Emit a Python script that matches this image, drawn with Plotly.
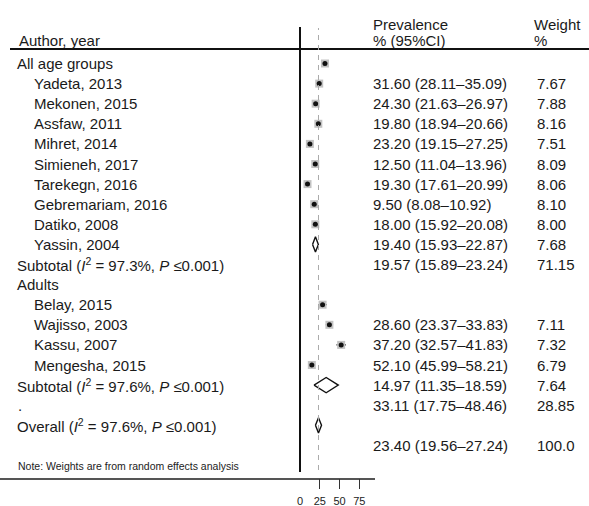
import plotly.graph_objects as go

# ---- study data -------------------------------------------------------
group1_label = "All age groups"
group1_authors = ["Yadeta, 2013", "Mekonen, 2015", "Assfaw, 2011", "Mihret, 2014",
                  "Simieneh, 2017", "Tarekegn, 2016", "Gebremariam, 2016",
                  "Datiko, 2008", "Yassin, 2004"]
group1_est = [31.60, 24.30, 19.80, 23.20, 12.50, 19.30, 9.50, 18.00, 19.40]
group1_lo = [28.11, 21.63, 18.94, 19.15, 11.04, 17.61, 8.08, 15.92, 15.93]
group1_hi = [35.09, 26.97, 20.66, 27.25, 13.96, 20.99, 10.92, 20.08, 22.87]
group1_wt = [7.67, 7.88, 8.16, 7.51, 8.09, 8.06, 8.10, 8.00, 7.68]
group1_sub = [19.57, 15.89, 23.24, 71.15]   # estimate, low, high, weight
group1_het = "Subtotal (<i>I</i><sup>2</sup> = 97.3%, <i>P</i> ≤0.001)"

group2_label = "Adults"
group2_authors = ["Belay, 2015", "Wajisso, 2003", "Kassu, 2007", "Mengesha, 2015"]
group2_est = [28.60, 37.20, 52.10, 14.97]
group2_lo = [23.37, 32.57, 45.99, 11.35]
group2_hi = [33.83, 41.83, 58.21, 18.59]
group2_wt = [7.11, 7.32, 6.79, 7.64]
group2_sub = [33.11, 17.75, 48.46, 28.85]
group2_het = "Subtotal (<i>I</i><sup>2</sup> = 97.6%, <i>P</i> ≤0.001)"

overall = [23.40, 19.56, 27.24, 100.0]
overall_het = "Overall (<i>I</i><sup>2</sup> = 97.6%, <i>P</i> ≤0.001)"
note_text = "Note: Weights are from random effects analysis"

axis_ticks = [0, 25, 50, 75]
major_ticks = [25, 50, 75]

# ---- geometry -----------------------------------------------------------
W, H = 589, 506
BOTTOM = 28                  # space under the axis line
PLOT_H = H - BOTTOM
ROW0, STEP = 63.5, 20.1      # pixel centre of first row, row spacing
X0_PX, PX_PER_UNIT = 300, 0.79
AXIS_END_PX = 375

def px_x(px):
    return px / W

def px_y(py):
    return (PLOT_H - py) / PLOT_H

x_min = (0 - X0_PX) / PX_PER_UNIT
x_max = (AXIS_END_PX - X0_PX) / PX_PER_UNIT
y_top = (0 - ROW0) / STEP
y_bot = (PLOT_H - ROW0) / STEP

FONT = "Liberation Sans, Arial, sans-serif"
TXT = "#1a1a1a"

# row layout of the text table
r = 0
left_rows = []   # (row, text, x_px)
left_rows.append((r, group1_label, 15)); r += 1
g1_rows = list(range(r, r + len(group1_authors)))
for rr, a in zip(g1_rows, group1_authors):
    left_rows.append((rr, a, 32))
r += len(group1_authors)
g1_sub_row = r
left_rows.append((r, group1_het, 15)); r += 1
left_rows.append((r, group2_label, 15)); r += 1
g2_first = r
for i, a in enumerate(group2_authors):
    left_rows.append((r + i, a, 32))
r += len(group2_authors)
g2_sub_row = r
left_rows.append((r, group2_het, 15)); r += 1
dot_row = r
left_rows.append((r, ".", 16)); r += 1
overall_row = r
left_rows.append((r, overall_het, 15)); r += 1
note_row = r + 1

# value columns (estimate text rows)
g1_val_rows = g1_rows
g2_val_rows = [g2_first + 1 + i for i in range(len(group2_est))]
val_entries = []
for rr, e, lo, hi, w in zip(g1_val_rows, group1_est, group1_lo, group1_hi, group1_wt):
    val_entries.append((rr, e, lo, hi, w))
val_entries.append((g1_sub_row, *group1_sub))
for rr, e, lo, hi, w in zip(g2_val_rows, group2_est, group2_lo, group2_hi, group2_wt):
    val_entries.append((rr, e, lo, hi, w))
val_entries.append((dot_row, *group2_sub))
val_entries.append((overall_row + 1, *overall))

def fmt(v):
    return f"{v:.2f}"

fig = go.Figure()

# study markers sit one line above their printed values
study_x = group1_est + group2_est
study_lo = group1_lo + group2_lo
study_hi = group1_hi + group2_hi
study_y = [rr - 1 for rr in g1_val_rows] + [rr - 1 for rr in g2_val_rows]

fig.add_trace(go.Scatter(
    x=study_x, y=study_y, mode="markers",
    marker=dict(symbol="square", size=8, color="#c2c2c2", line=dict(width=0)),
    error_x=dict(type="data", symmetric=False,
                 array=[h - e for h, e in zip(study_hi, study_x)],
                 arrayminus=[e - l for e, l in zip(study_x, study_lo)],
                 color="#111", thickness=1, width=0),
    hoverinfo="skip", showlegend=False))
fig.add_trace(go.Scatter(
    x=study_x, y=study_y, mode="markers",
    marker=dict(symbol="circle", size=5, color="#111"),
    hoverinfo="skip", showlegend=False))

# pooled diamonds
def diamond(est, lo, hi, row, half=0.38):
    fig.add_trace(go.Scatter(
        x=[lo, est, hi, est, lo], y=[row, row - half, row, row + half, row],
        mode="lines", fill="toself", fillcolor="white",
        line=dict(color="#111", width=1.4),
        hoverinfo="skip", showlegend=False))

diamond(group1_sub[0], group1_sub[1], group1_sub[2], g1_sub_row - 1)
diamond(group2_sub[0], group2_sub[1], group2_sub[2], dot_row - 1)
diamond(overall[0], overall[1], overall[2], overall_row)

# carrier for the visible tick marks
fig.add_trace(go.Scatter(x=[major_ticks[0]], y=[y_bot], xaxis="x2",
                         mode="markers", marker=dict(opacity=0),
                         hoverinfo="skip", showlegend=False))

ann = []
def text(x, y, s, size=15, yref="y", color=TXT):
    ann.append(dict(x=x, y=y, xref="paper", yref=yref, text=s, showarrow=False,
                    xanchor="left", yanchor="middle",
                    font=dict(family=FONT, size=size, color=color)))

# headers
text(px_x(17), px_y(40), "Author, year", yref="paper")
text(px_x(371), px_y(24), "Prevalence", yref="paper")
text(px_x(371), px_y(40), "% (95%CI)", yref="paper")
text(px_x(532), px_y(24), "Weight", yref="paper")
text(px_x(532), px_y(40), "%", yref="paper")

for rr, s, xp in left_rows:
    text(px_x(xp), rr, s)
for rr, e, lo, hi, w in val_entries:
    text(px_x(371), rr, f"{fmt(e)} ({fmt(lo)}–{fmt(hi)})")
    wtxt = f"{w:.1f}" if w >= 100 else f"{w:.2f}"
    text(px_x(535), rr, wtxt)

text(px_x(16), note_row, note_text, size=10.5, color="#222")

shapes = [
    # header rule
    dict(type="line", xref="paper", yref="paper", x0=px_x(10), x1=1,
         y0=px_y(49), y1=px_y(49), line=dict(color="#111", width=2)),
    # null line
    dict(type="line", xref="x", yref="paper", x0=0, x1=0,
         y0=px_y(472), y1=px_y(27), line=dict(color="#111", width=2)),
    # overall estimate reference line
    dict(type="line", xref="x", yref="paper", x0=overall[0], x1=overall[0],
         y0=px_y(470), y1=px_y(28), line=dict(color="#aaaaaa", width=1, dash="5px,5px")),
]

fig.update_layout(
    width=W, height=H,
    margin=dict(l=0, r=0, t=0, b=BOTTOM),
    paper_bgcolor="white", plot_bgcolor="white",
    xaxis=dict(domain=[0, AXIS_END_PX / W], range=[x_min, x_max],
               tickvals=axis_ticks, ticks="outside", ticklen=12,
               tickcolor="rgba(0,0,0,0)", showgrid=False, zeroline=False,
               showline=True, linecolor="#555", linewidth=1.5,
               tickfont=dict(family=FONT, size=11, color="#222")),
    xaxis2=dict(domain=[0, AXIS_END_PX / W], range=[x_min, x_max],
                overlaying="x", anchor="y", side="bottom",
                tickvals=major_ticks, ticks="outside", ticklen=10,
                tickwidth=1.2, tickcolor="#333", showticklabels=False,
                showgrid=False, zeroline=False, showline=False),
    yaxis=dict(range=[y_bot, y_top], visible=False, domain=[0, 1]),
    annotations=ann, shapes=shapes, showlegend=False,
)

fig.write_html("out.html")
